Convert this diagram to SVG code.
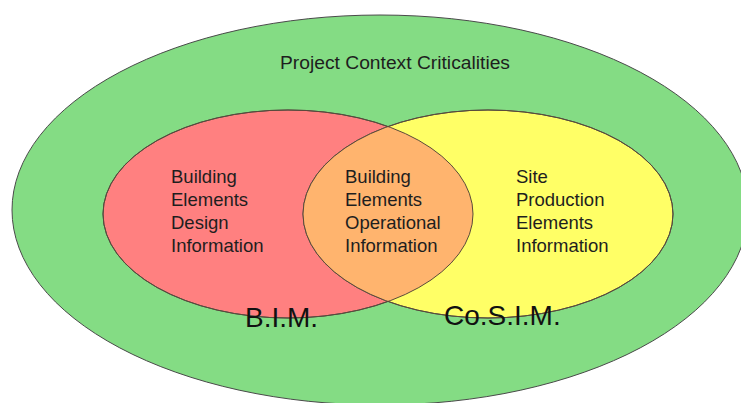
<svg xmlns="http://www.w3.org/2000/svg" width="741" height="403" viewBox="0 0 741 403">
  <style>
    .set { stroke: #4a4a4a; stroke-width: 1; }
    .outline { fill: none; stroke: #5a4a3a; stroke-width: 1; }
    .label { font-family: "Liberation Sans", Arial, sans-serif; font-size: 18.5px; fill: #1e1e1e; }
    .title { font-family: "Liberation Sans", Arial, sans-serif; font-size: 17.5px; fill: #1e1e1e; }
    .name { font-family: "Liberation Sans", Arial, sans-serif; font-size: 28px; fill: #111; }
  </style>
  <defs>
    <clipPath id="bimClip">
      <ellipse cx="288" cy="214" rx="185" ry="104"/>
    </clipPath>
  </defs>

  <!-- outer context set -->
  <g id="context">
    <ellipse class="set" cx="380" cy="210" rx="368" ry="195" fill="#84DC84"/>
    <text class="title" x="280" y="69" textLength="230" lengthAdjust="spacingAndGlyphs">Project Context Criticalities</text>
  </g>

  <!-- B.I.M. set -->
  <g id="bim">
    <ellipse class="set" cx="288" cy="214" rx="185" ry="104" fill="#FF8080"/>
  </g>

  <!-- Co.S.I.M. set -->
  <g id="cosim">
    <ellipse class="set" cx="488" cy="214" rx="185" ry="104" fill="#FFFF66"/>
  </g>

  <!-- overlap of both sets -->
  <g id="overlap">
    <ellipse cx="488" cy="214" rx="185" ry="104" fill="#FFB46E" clip-path="url(#bimClip)"/>
    <ellipse class="outline" cx="288" cy="214" rx="185" ry="104"/>
    <ellipse class="outline" cx="488" cy="214" rx="185" ry="104"/>
  </g>

  <g id="bim-text">
    <text class="label" x="171" y="183">Building</text>
    <text class="label" x="171" y="206">Elements</text>
    <text class="label" x="171" y="229">Design</text>
    <text class="label" x="171" y="252">Information</text>
    <text class="name" x="245" y="327">B.I.M.</text>
  </g>

  <g id="overlap-text">
    <text class="label" x="345" y="183">Building</text>
    <text class="label" x="345" y="206">Elements</text>
    <text class="label" x="345" y="229">Operational</text>
    <text class="label" x="345" y="252">Information</text>
  </g>

  <g id="cosim-text">
    <text class="label" x="516" y="183">Site</text>
    <text class="label" x="516" y="206">Production</text>
    <text class="label" x="516" y="229">Elements</text>
    <text class="label" x="516" y="252">Information</text>
    <text class="name" x="444" y="325">Co.S.I.M.</text>
  </g>
</svg>
